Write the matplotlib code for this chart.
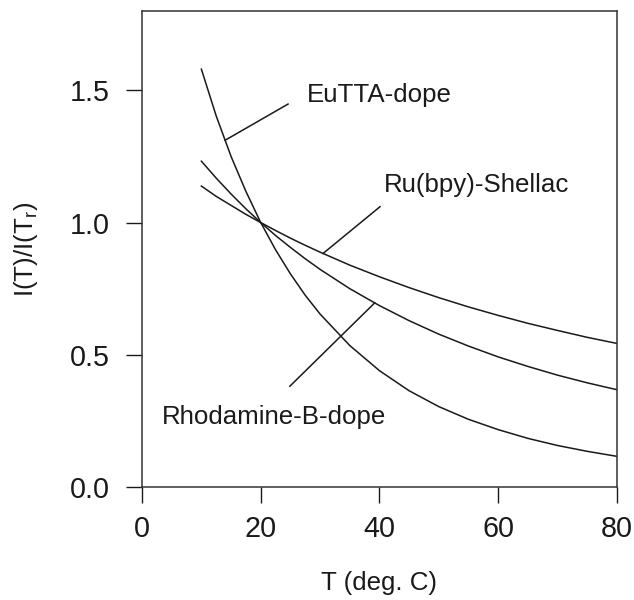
import numpy as np
import matplotlib
matplotlib.use('Agg')
import matplotlib.pyplot as plt

plt.rcParams['font.family'] = ['Liberation Sans', 'DejaVu Sans']
plt.rcParams['mathtext.default'] = 'regular'

# temperature (deg C) and normalised intensity
temps = [10, 12.5, 15, 17.5, 20, 22.5, 25, 27.5, 30, 35, 40, 45, 50, 55, 60,
         65, 70, 75, 80]
eutta = [1.58, 1.403, 1.25, 1.118, 1.00, 0.897, 0.806, 0.725, 0.654, 0.535,
         0.440, 0.364, 0.304, 0.256, 0.217, 0.184, 0.157, 0.135, 0.116]
rhodamine = [1.232, 1.168, 1.108, 1.052, 1.00, 0.951, 0.906, 0.863, 0.823,
             0.750, 0.686, 0.629, 0.578, 0.533, 0.492, 0.456, 0.423, 0.394, 0.368]
ru_shellac = [1.138, 1.099, 1.065, 1.031, 1.00, 0.970, 0.941, 0.914, 0.888,
              0.839, 0.795, 0.754, 0.716, 0.681, 0.649, 0.619, 0.592, 0.566, 0.543]

# label text, where it sits, and the leader line (curve anchor T -> free end)
labels = ['EuTTA-dope', 'Ru(bpy)-Shellac', 'Rhodamine-B-dope']
label_pos = [(27.7, 1.454), (40.8, 1.114), (3.3, 0.238)]
leader_T = [14.0, 30.5, 39.2]
leader_end = [(24.6, 1.448), (40.1, 1.06), (24.9, 0.381)]

fig = plt.figure(figsize=(6.34, 6.0), dpi=100)
ax = fig.add_axes([0.224, 0.1883, 0.749, 0.7934])

col = '#1a1a1a'
series = [eutta, ru_shellac, rhodamine]
for ys in series:
    ax.plot(temps, ys, color=col, lw=1.1)

for name, (tx, ty), t0, (ex, ey), ys in zip(labels, label_pos, leader_T, leader_end, series):
    y0 = np.interp(t0, temps, ys)
    ax.plot([t0, ex], [y0, ey], color=col, lw=1.1)
    ax.text(tx, ty, name, fontsize=18.6, ha='left', va='baseline', color=col)

ax.set_xlim(0, 80)
ax.set_ylim(0, 1.8)
ax.set_xticks([0, 20, 40, 60, 80])
ax.set_yticks([0.0, 0.5, 1.0, 1.5])
ax.set_yticklabels(['0.0', '0.5', '1.0', '1.5'])
ax.tick_params(direction='out', length=11.5, width=1.0, labelsize=20.7,
               colors=col, pad=9)
ax.tick_params(axis='y', pad=12)
for s in ax.spines.values():
    s.set_linewidth(1.1)
    s.set_color('#333333')

ax.set_xlabel('T (deg. C)', fontsize=18.6, color=col)
ax.set_ylabel('I(T)/I(T$_r$)', fontsize=18.6, color=col)
ax.xaxis.set_label_coords(0.5, -0.176)
ax.yaxis.set_label_coords(-0.215, 0.5)

fig.savefig('out.png', dpi=100)
